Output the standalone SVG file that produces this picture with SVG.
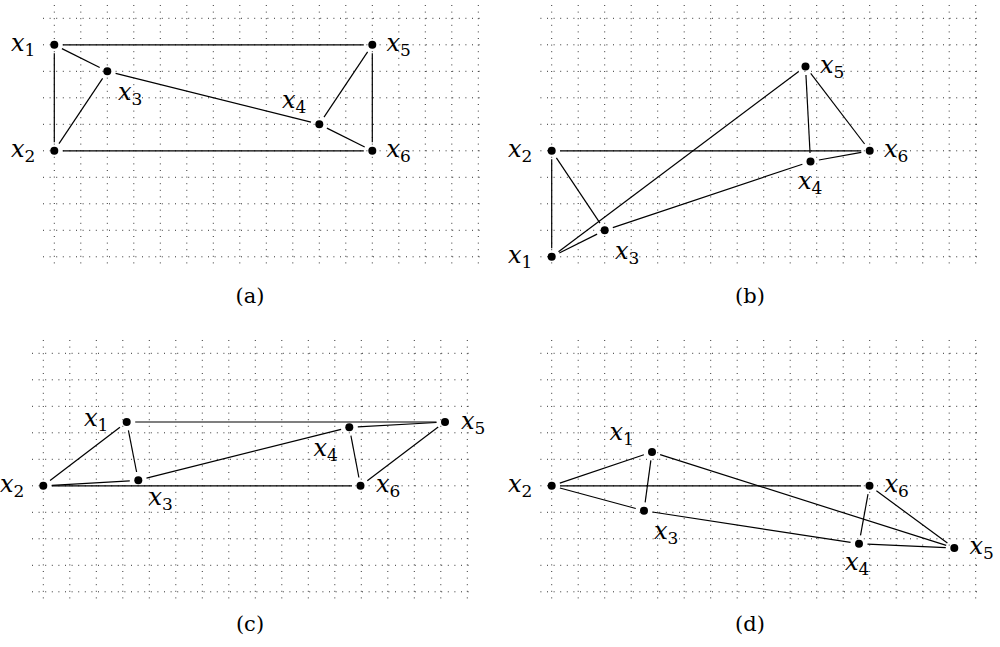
<svg xmlns="http://www.w3.org/2000/svg" xmlns:xlink="http://www.w3.org/1999/xlink" width="1000" height="647" viewBox="0 0 1000 647">
<style>
.grid{fill:none;stroke:#333;stroke-width:1;stroke-dasharray:1 5.6}
.edge{stroke:#000;stroke-width:1.2;fill:none}
.node{fill:#000}
.lbl{font-family:"DejaVu Serif","Liberation Serif",serif;font-style:italic;font-size:24px;fill:#000}
.sub{font-style:normal;font-size:17px}
.cap{font-family:"DejaVu Serif","Liberation Serif",serif;font-size:21px;fill:#000;text-anchor:middle}
</style>
<defs>
<path id="grid" class="grid" d="M0 -13.3V249.7M26.5 -13.3V249.7M53 -13.3V249.7M79.5 -13.3V249.7M106 -13.3V249.7M132.5 -13.3V249.7M159 -13.3V249.7M185.5 -13.3V249.7M212 -13.3V249.7M238.5 -13.3V249.7M265 -13.3V249.7M291.5 -13.3V249.7M318 -13.3V249.7M344.5 -13.3V249.7M371 -13.3V249.7M397.5 -13.3V249.7M424 -13.3V249.7M-11.3 0H430.7M-11.3 26.5H430.7M-11.3 53H430.7M-11.3 79.5H430.7M-11.3 106H430.7M-11.3 132.5H430.7M-11.3 159H430.7M-11.3 185.5H430.7M-11.3 212H430.7M-11.3 238.5H430.7"/>
</defs>
<g id="grids">
<use xlink:href="#grid" href="#grid" x="54.3" y="18.3"/>
<use xlink:href="#grid" href="#grid" x="551.7" y="18.3"/>
<use xlink:href="#grid" href="#grid" x="43.3" y="353.3"/>
<use xlink:href="#grid" href="#grid" x="551.7" y="353.3"/>
</g>
<g id="connectors" class="edge">
<!-- panel a -->
<line x1="62.8" y1="44.8" x2="363.8" y2="44.8"/>
<line x1="54.3" y1="53.3" x2="54.3" y2="142.3"/>
<line x1="61.9" y1="48.6" x2="99.7" y2="67.5"/>
<line x1="59.0" y1="143.7" x2="102.6" y2="78.4"/>
<line x1="62.8" y1="150.8" x2="363.8" y2="150.8"/>
<line x1="115.6" y1="73.4" x2="311.0" y2="122.2"/>
<line x1="324.0" y1="117.2" x2="367.6" y2="51.9"/>
<line x1="326.9" y1="128.1" x2="364.7" y2="147.0"/>
<line x1="372.3" y1="53.3" x2="372.3" y2="142.3"/>
<!-- panel b -->
<line x1="551.7" y1="248.3" x2="551.7" y2="159.3"/>
<line x1="558.5" y1="251.7" x2="798.7" y2="71.6"/>
<line x1="559.3" y1="253.0" x2="597.1" y2="234.1"/>
<line x1="556.4" y1="157.9" x2="600.0" y2="223.2"/>
<line x1="560.2" y1="150.8" x2="861.2" y2="150.8"/>
<line x1="612.8" y1="227.6" x2="802.4" y2="164.2"/>
<line x1="810.05" y1="153.0" x2="805.95" y2="75.0"/>
<line x1="818.9" y1="160.0" x2="861.3" y2="152.3"/>
<line x1="810.7" y1="73.3" x2="864.6" y2="144.0"/>
<!-- panel c -->
<line x1="135.2" y1="422" x2="436.5" y2="422"/>
<line x1="119.95" y1="427.2" x2="50.05" y2="480.6"/>
<line x1="128.4" y1="430.3" x2="136.6" y2="472.0"/>
<line x1="51.8" y1="485.3" x2="129.8" y2="480.8"/>
<line x1="51.8" y1="485.8" x2="352.0" y2="485.8"/>
<line x1="146.5" y1="478.2" x2="341.1" y2="429.4"/>
<line x1="357.8" y1="426.8" x2="436.5" y2="422.5"/>
<line x1="350.9" y1="435.7" x2="358.9" y2="477.5"/>
<line x1="438.2" y1="427.1" x2="367.3" y2="480.7"/>
<!-- panel d -->
<line x1="559.8" y1="483.1" x2="643.9" y2="454.7"/>
<line x1="560.2" y1="485.8" x2="861.0" y2="485.8"/>
<line x1="559.9" y1="488.0" x2="635.8" y2="508.5"/>
<line x1="650.85" y1="460.4" x2="645.15" y2="502.3"/>
<line x1="660.1" y1="454.6" x2="946.2" y2="545.4"/>
<line x1="652.4" y1="512.0" x2="850.6" y2="542.4"/>
<line x1="860.5" y1="535.3" x2="868.0" y2="494.2"/>
<line x1="867.5" y1="544.1" x2="945.8" y2="547.6"/>
<line x1="876.4" y1="490.8" x2="947.4" y2="543.0"/>
</g>
<g id="nodes">
<!-- panel a nodes -->
<g id="a-x1"><circle class="node" cx="54.3" cy="44.8" r="4"/><text class="lbl" x="11" y="50.5">x<tspan class="sub" dy="5">1</tspan></text></g>
<g id="a-x2"><circle class="node" cx="54.3" cy="150.8" r="4"/><text class="lbl" x="11" y="156.5">x<tspan class="sub" dy="5">2</tspan></text></g>
<g id="a-x3"><circle class="node" cx="107.3" cy="71.3" r="4"/><text class="lbl" x="118" y="100">x<tspan class="sub" dy="5">3</tspan></text></g>
<g id="a-x4"><circle class="node" cx="319.3" cy="124.3" r="4"/><text class="lbl" x="282" y="107.5">x<tspan class="sub" dy="5">4</tspan></text></g>
<g id="a-x5"><circle class="node" cx="372.3" cy="44.8" r="4"/><text class="lbl" x="386.5" y="50.5">x<tspan class="sub" dy="5">5</tspan></text></g>
<g id="a-x6"><circle class="node" cx="372.3" cy="150.8" r="4"/><text class="lbl" x="386.5" y="156.5">x<tspan class="sub" dy="5">6</tspan></text></g>
<!-- panel b nodes -->
<g id="b-x1"><circle class="node" cx="551.7" cy="256.8" r="4"/><text class="lbl" x="508" y="262.5">x<tspan class="sub" dy="5">1</tspan></text></g>
<g id="b-x2"><circle class="node" cx="551.7" cy="150.8" r="4"/><text class="lbl" x="508" y="156.5">x<tspan class="sub" dy="5">2</tspan></text></g>
<g id="b-x3"><circle class="node" cx="604.7" cy="230.3" r="4"/><text class="lbl" x="615" y="258.5">x<tspan class="sub" dy="5">3</tspan></text></g>
<g id="b-x4"><circle class="node" cx="810.5" cy="161.5" r="4"/><text class="lbl" x="798" y="188.5">x<tspan class="sub" dy="5">4</tspan></text></g>
<g id="b-x5"><circle class="node" cx="805.5" cy="66.5" r="4"/><text class="lbl" x="820" y="72.5">x<tspan class="sub" dy="5">5</tspan></text></g>
<g id="b-x6"><circle class="node" cx="869.7" cy="150.8" r="4"/><text class="lbl" x="884" y="156.5">x<tspan class="sub" dy="5">6</tspan></text></g>
<!-- panel c nodes -->
<g id="c-x1"><circle class="node" cx="126.7" cy="422" r="4"/><text class="lbl" x="84" y="426">x<tspan class="sub" dy="5">1</tspan></text></g>
<g id="c-x2"><circle class="node" cx="43.3" cy="485.8" r="4"/><text class="lbl" x="0" y="491.5">x<tspan class="sub" dy="5">2</tspan></text></g>
<g id="c-x3"><circle class="node" cx="138.3" cy="480.3" r="4"/><text class="lbl" x="148.5" y="505">x<tspan class="sub" dy="5">3</tspan></text></g>
<g id="c-x4"><circle class="node" cx="349.3" cy="427.3" r="4"/><text class="lbl" x="313.5" y="456">x<tspan class="sub" dy="5">4</tspan></text></g>
<g id="c-x5"><circle class="node" cx="445" cy="422" r="4"/><text class="lbl" x="461" y="429">x<tspan class="sub" dy="5">5</tspan></text></g>
<g id="c-x6"><circle class="node" cx="360.5" cy="485.8" r="4"/><text class="lbl" x="376" y="491.5">x<tspan class="sub" dy="5">6</tspan></text></g>
<!-- panel d nodes -->
<g id="d-x1"><circle class="node" cx="652" cy="452" r="4"/><text class="lbl" x="609.5" y="440">x<tspan class="sub" dy="5">1</tspan></text></g>
<g id="d-x2"><circle class="node" cx="551.7" cy="485.8" r="4"/><text class="lbl" x="508" y="491.5">x<tspan class="sub" dy="5">2</tspan></text></g>
<g id="d-x3"><circle class="node" cx="644" cy="510.7" r="4"/><text class="lbl" x="654" y="538.5">x<tspan class="sub" dy="5">3</tspan></text></g>
<g id="d-x4"><circle class="node" cx="859" cy="543.7" r="4"/><text class="lbl" x="845" y="570">x<tspan class="sub" dy="5">4</tspan></text></g>
<g id="d-x5"><circle class="node" cx="954.3" cy="548" r="4"/><text class="lbl" x="969.5" y="554">x<tspan class="sub" dy="5">5</tspan></text></g>
<g id="d-x6"><circle class="node" cx="869.5" cy="485.8" r="4"/><text class="lbl" x="884.5" y="491.5">x<tspan class="sub" dy="5">6</tspan></text></g>
</g>
<g id="captions">
<text class="cap" x="250" y="303">(a)</text>
<text class="cap" x="750" y="303">(b)</text>
<text class="cap" x="250" y="631">(c)</text>
<text class="cap" x="750" y="631">(d)</text>
</g>
</svg>
